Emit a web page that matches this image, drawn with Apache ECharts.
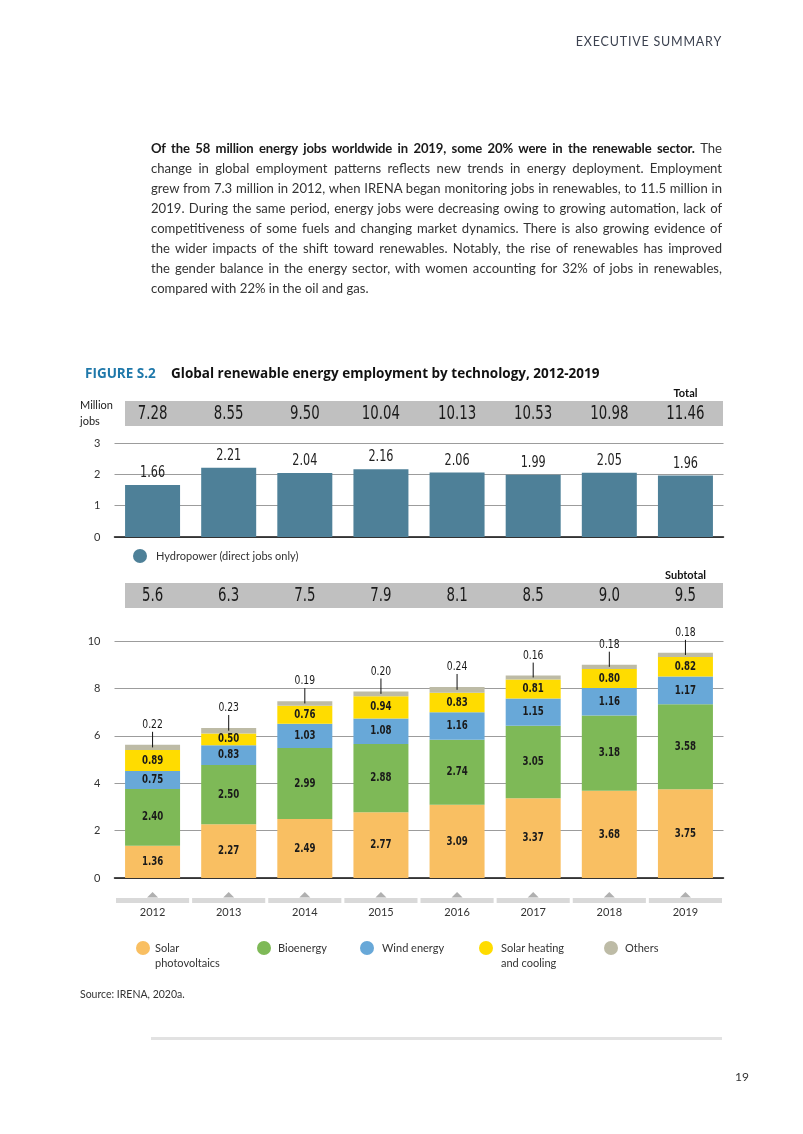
<!DOCTYPE html>
<html>
<head>
<meta charset="utf-8">
<script src="https://cdn.jsdelivr.net/npm/echarts@6/dist/echarts.min.js"></script>
<style>
html,body{margin:0;padding:0;background:#fff;}
#chart{position:absolute;left:0;top:0;width:803px;height:1134px;}
.hdr{position:absolute;right:81px;top:34px;font:12.5px Lato,sans-serif;letter-spacing:0.8px;color:#3c4250;}
.para{position:absolute;left:151px;top:138px;width:571px;font:13.1px/20px Lato,sans-serif;color:#333;}
.para div{text-align:justify;text-align-last:justify;white-space:nowrap;}
.para div.last{text-align-last:left;}
.para b{color:#1a1a1a;letter-spacing:-0.15px;}
.pn{position:absolute;left:735px;top:1069px;font:12px Lato,sans-serif;color:#333;}
.foot{position:absolute;left:151px;top:1037px;width:571px;height:3px;background:#e2e2e2;}
</style>
</head>
<body>
<div id="chart"></div>
<div class="hdr">EXECUTIVE SUMMARY</div>
<div class="para">
<div><b>Of the 58 million energy jobs worldwide in 2019, some 20% were in the renewable sector.</b> The</div>
<div>change in global employment patterns reflects new trends in energy deployment. Employment</div>
<div>grew from 7.3 million in 2012, when IRENA began monitoring jobs in renewables, to 11.5 million in</div>
<div>2019. During the same period, energy jobs were decreasing owing to growing automation, lack of</div>
<div>competitiveness of some fuels and changing market dynamics. There is also growing evidence of</div>
<div>the wider impacts of the shift toward renewables. Notably, the rise of renewables has improved</div>
<div>the gender balance in the energy sector, with women accounting for 32% of jobs in renewables,</div>
<div class="last">compared with 22% in the oil and gas.</div>
</div>
<div class="foot"></div>
<div class="pn">19</div>
<script>
// ---- data ----
const years = ['2012','2013','2014','2015','2016','2017','2018','2019'];
const totals = [7.28, 8.55, 9.50, 10.04, 10.13, 10.53, 10.98, 11.46];
const hydro = [1.66, 2.21, 2.04, 2.16, 2.06, 1.99, 2.05, 1.96];
const subtotals = [5.6, 6.3, 7.5, 7.9, 8.1, 8.5, 9.0, 9.5];
const solarPV = [1.36, 2.27, 2.49, 2.77, 3.09, 3.37, 3.68, 3.75];
const bioenergy = [2.40, 2.50, 2.99, 2.88, 2.74, 3.05, 3.18, 3.58];
const wind = [0.75, 0.83, 1.03, 1.08, 1.16, 1.15, 1.16, 1.17];
const solarHeating = [0.89, 0.50, 0.76, 0.94, 0.83, 0.81, 0.80, 0.82];
const others = [0.22, 0.23, 0.19, 0.20, 0.24, 0.16, 0.18, 0.18];
const hydroTicks = [0, 1, 2, 3];
const stackTicks = [0, 2, 4, 6, 8, 10];

const C = {pv:'#F9BF62', bio:'#7EB957', wind:'#68A8D8', heat:'#FFDC00', oth:'#BDBBA6', hydro:'#4E8098'};
const NARROW = "'Liberation Sans Narrow','DejaVu Sans Condensed','Roboto Condensed',sans-serif";
const SANS = "Lato,'Open Sans',sans-serif";
const SQ = 0.78; // horizontal squeeze for condensed numerals

const GL = 114.5, GW = 609;

const chart = echarts.init(document.getElementById('chart'), null, {renderer:'canvas'});

const layers = [solarPV, bioenergy, wind, solarHeating];
const stackTop = years.map((y,i)=> solarPV[i]+bioenergy[i]+wind[i]+solarHeating[i]+others[i]);

function narrowText(str, x, y, font, fill, sq){
  return {type:'text', x:x, y:y, scaleX:sq || SQ,
    style:{text:str, x:0, y:0, align:'center', verticalAlign:'middle', font:font, fill:fill}};
}

function bandText(arr, dec){
  return function(params, api){
    const i = api.value(0);
    const p = api.coord([i, 0.5]);
    return narrowText(arr[i].toFixed(dec), p[0], p[1]+1, '19px ' + NARROW, '#1a1a1a');
  };
}

function stackSeries(name, data, color){
  return {name, type:'bar', xAxisIndex:1, yAxisIndex:1, stack:'re', barWidth:55, data, itemStyle:{color}};
}

const legendItems = [
  {name:'Solar\nphotovoltaics', color:C.pv, cx:143, tx:155},
  {name:'Bioenergy', color:C.bio, cx:264, tx:278},
  {name:'Wind energy', color:C.wind, cx:367, tx:382},
  {name:'Solar heating\nand cooling', color:C.heat, cx:486, tx:501},
  {name:'Others', color:C.oth, cx:611, tx:625}
];
const graphics = [
  {type:'rect', shape:{x:125, y:401, width:598, height:25}, style:{fill:'#c0c0c0'}, z:0},
  {type:'rect', shape:{x:125, y:583, width:598, height:25}, style:{fill:'#c0c0c0'}, z:0},
  {type:'text', style:{text:'Million\njobs', x:80, y:397, font:'11px '+SANS, fill:'#222', lineHeight:16}},
  {type:'text', style:{text:'Total', x:685.5, y:393, align:'center', verticalAlign:'middle', font:'bold 11px '+SANS, fill:'#111'}},
  {type:'text', style:{text:'Subtotal', x:685.5, y:575, align:'center', verticalAlign:'middle', font:'bold 11px '+SANS, fill:'#111'}},
  {type:'circle', shape:{cx:140, cy:556, r:7}, style:{fill:C.hydro}},
  {type:'text', style:{text:'Hydropower (direct jobs only)', x:156, y:556, verticalAlign:'middle', font:'11px '+SANS, fill:'#333'}},
  {type:'text', style:{text:'Source: IRENA, 2020a.', x:80, y:995, verticalAlign:'middle', font:'10.5px '+SANS, fill:'#333'}}
];
legendItems.forEach(l=>{
  graphics.push({type:'circle', shape:{cx:l.cx, cy:948, r:7}, style:{fill:l.color}});
  graphics.push({type:'text', style:{text:l.name, x:l.tx, y:941, font:'11px '+SANS, fill:'#333', lineHeight:15}});
});

const option = {
  backgroundColor:'#fff',
  animation:false,
  title:{left:80, top:362, text:'{a|FIGURE S.2}{b|Global renewable energy employment by technology, 2012-2019}',
    textStyle:{rich:{a:{color:'#1f78aa', fontWeight:'bold', fontSize:13.5, fontFamily:"'Open Sans',sans-serif", width:86},
                     b:{color:'#111', fontWeight:'bold', fontSize:13.5, fontFamily:"'Open Sans',sans-serif"}}}},
  grid:[
    {left:GL, top:443, width:GW, height:94},
    {left:GL, top:641, width:GW, height:237},
    {left:GL, top:401, width:GW, height:25},
    {left:GL, top:583, width:GW, height:25}
  ],
  xAxis:[
    {type:'category', gridIndex:0, data:years, axisLine:{lineStyle:{color:'#111', width:1.5}}, axisTick:{show:false}, axisLabel:{show:false}},
    {type:'category', gridIndex:1, data:years, axisLine:{lineStyle:{color:'#111', width:1.5}}, axisTick:{show:false},
      axisLabel:{margin:29, fontSize:11, color:'#333', fontFamily:SANS}},
    {type:'category', gridIndex:2, data:years, show:false},
    {type:'category', gridIndex:3, data:years, show:false}
  ],
  yAxis:[
    {type:'value', gridIndex:0, min:hydroTicks[0], max:hydroTicks[hydroTicks.length-1], interval:hydroTicks[1]-hydroTicks[0],
      axisLine:{show:false}, axisTick:{show:false}, axisLabel:{margin:14, fontSize:11, color:'#333', fontFamily:SANS},
      splitLine:{lineStyle:{color:'#9c9c9c', width:1}}},
    {type:'value', gridIndex:1, min:stackTicks[0], max:stackTicks[stackTicks.length-1], interval:stackTicks[1]-stackTicks[0],
      axisLine:{show:false}, axisTick:{show:false}, axisLabel:{margin:14, fontSize:11, color:'#333', fontFamily:SANS},
      splitLine:{lineStyle:{color:'#9c9c9c', width:1}}},
    {type:'value', gridIndex:2, min:0, max:1, show:false},
    {type:'value', gridIndex:3, min:0, max:1, show:false}
  ],
  series:[
    {name:'Hydropower (direct jobs only)', type:'bar', xAxisIndex:0, yAxisIndex:0, barWidth:55, data:hydro,
      itemStyle:{color:C.hydro}},
    // hydro value labels (condensed)
    {type:'custom', xAxisIndex:0, yAxisIndex:0, clip:false, z:5, silent:true,
      data: hydro.map((v,i)=>[i, v]),
      renderItem(params, api){
        const p = api.coord([api.value(0), api.value(1)]);
        return narrowText(api.value(1).toFixed(2), p[0], p[1]-12, '16px '+NARROW, '#222');
      }},
    stackSeries('Solar photovoltaics', solarPV, C.pv),
    stackSeries('Bioenergy', bioenergy, C.bio),
    stackSeries('Wind energy', wind, C.wind),
    stackSeries('Solar heating and cooling', solarHeating, C.heat),
    {name:'Others', type:'bar', xAxisIndex:1, yAxisIndex:1, stack:'re', barWidth:55, data:others, itemStyle:{color:C.oth}},
    // in-bar segment labels
    {type:'custom', xAxisIndex:1, yAxisIndex:1, clip:false, z:5, silent:true,
      data: years.map((y,i)=>[i].concat(layers.map(l=>l[i]))),
      renderItem(params, api){
        const i = api.value(0);
        const kids = [];
        let base = 0;
        for (let k=0; k<layers.length; k++){
          const v = api.value(k+1);
          const p = api.coord([i, base + v/2]);
          kids.push(narrowText(v.toFixed(2), p[0], p[1], 'bold 12px '+NARROW, '#1a1a1a', 0.8));
          base += v;
        }
        return {type:'group', children:kids};
      }},
    // "Others" call-out labels with leader lines
    {type:'custom', xAxisIndex:1, yAxisIndex:1, clip:false, z:5,
      data: years.map((y,i)=>[i, stackTop[i], others[i]]),
      renderItem(params, api){
        const i = api.value(0), top = api.value(1), o = api.value(2);
        const pTop = api.coord([i, top]);
        const pMid = api.coord([i, top - o/2]);
        return {type:'group', children:[
          {type:'line', shape:{x1:pTop[0], y1:pMid[1], x2:pTop[0], y2:pTop[1]-13}, style:{stroke:'#111', lineWidth:1}},
          narrowText(o.toFixed(2), pTop[0], pTop[1]-20, '12.5px '+NARROW, '#1a1a1a', 0.82)
        ]};
      }},
    // x-axis category band with triangles
    {type:'custom', xAxisIndex:1, yAxisIndex:1, clip:false, silent:true,
      data: years.map((y,i)=>[i, 0]),
      renderItem(params, api){
        const p = api.coord([api.value(0), 0]);
        const w = api.size([1, 0])[0];
        return {type:'group', children:[
          {type:'rect', shape:{x:p[0]-w/2+1.5, y:p[1]+20, width:w-3, height:5}, style:{fill:'#d9d9d9'}},
          {type:'polygon', shape:{points:[[p[0]-5.5, p[1]+19.5],[p[0]+5.5, p[1]+19.5],[p[0], p[1]+14]]}, style:{fill:'#b0b0b0'}}
        ]};
      }},
    {type:'custom', xAxisIndex:2, yAxisIndex:2, clip:false, z:5, data: years.map((y,i)=>[i, 0.5]), renderItem: bandText(totals, 2)},
    {type:'custom', xAxisIndex:3, yAxisIndex:3, clip:false, z:5, data: years.map((y,i)=>[i, 0.5]), renderItem: bandText(subtotals, 1)}
  ],
  graphic: graphics
};
chart.setOption(option);
</script>
</body>
</html>
